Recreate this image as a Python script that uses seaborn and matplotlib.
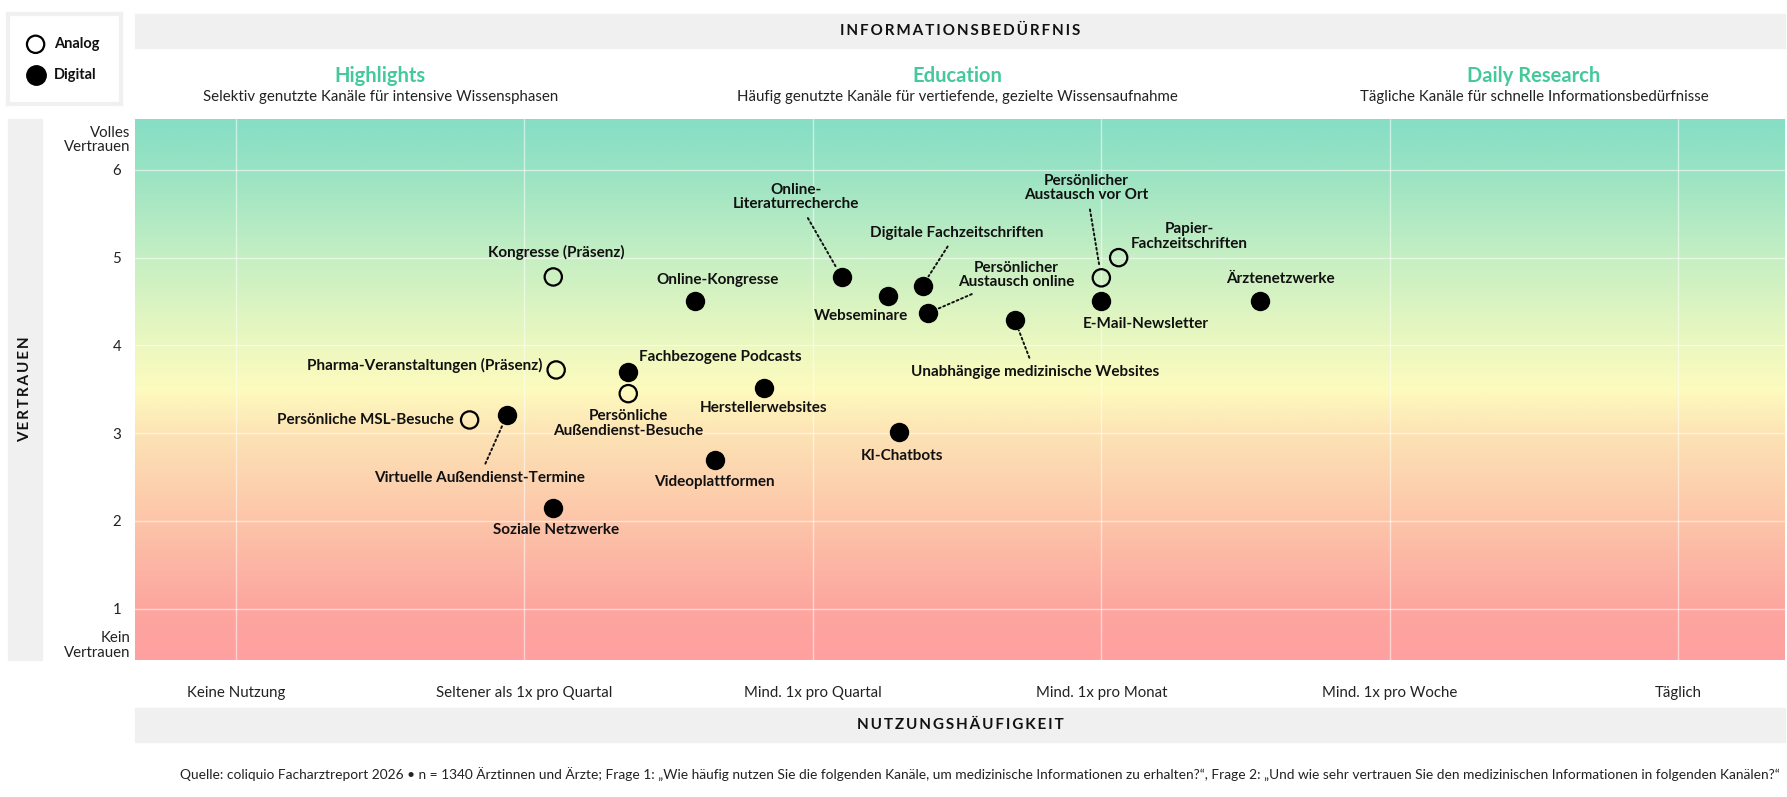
import matplotlib
matplotlib.use("Agg")
import matplotlib.pyplot as plt
import matplotlib.transforms as mtransforms
from matplotlib.colors import LinearSegmentedColormap
from matplotlib.patches import Rectangle
import numpy as np
import pandas as pd
import seaborn as sns

# --- Daten -------------------------------------------------------------
channels = [
    "Kongresse (Präsenz)", "Online-Kongresse", "Pharma-Veranstaltungen (Präsenz)",
    "Fachbezogene Podcasts", "Persönliche Außendienst-Besuche", "Persönliche MSL-Besuche",
    "Virtuelle Außendienst-Termine", "Soziale Netzwerke", "Videoplattformen",
    "Herstellerwebsites", "KI-Chatbots", "Online-Literaturrecherche", "Webseminare",
    "Digitale Fachzeitschriften", "Persönlicher Austausch online",
    "Unabhängige medizinische Websites", "Persönlicher Austausch vor Ort",
    "Papier-Fachzeitschriften", "E-Mail-Newsletter", "Ärztenetzwerke",
]
usage = [1.10, 1.59, 1.11, 1.36, 1.36, 0.81, 0.94, 1.10, 1.66, 1.83,
         2.30, 2.10, 2.26, 2.38, 2.40, 2.70, 3.00, 3.06, 3.00, 3.55]
trust = [4.78, 4.51, 3.72, 3.70, 3.45, 3.15, 3.21, 2.15, 2.69, 3.51,
         3.01, 4.78, 4.56, 4.68, 4.37, 4.29, 4.77, 5.00, 4.51, 4.51]
kind = ["Analog", "Digital", "Analog", "Digital", "Analog", "Analog",
        "Digital", "Digital", "Digital", "Digital", "Digital", "Digital", "Digital",
        "Digital", "Digital", "Digital", "Analog", "Analog", "Digital", "Digital"]

usage_labels = ["Keine Nutzung", "Seltener als 1x pro Quartal", "Mind. 1x pro Quartal",
                "Mind. 1x pro Monat", "Mind. 1x pro Woche", "Täglich"]
trust_ticks = [1, 2, 3, 4, 5, 6]
segments = ["Highlights", "Education", "Daily Research"]
segment_texts = ["Selektiv genutzte Kanäle für intensive Wissensphasen",
                 "Häufig genutzte Kanäle für vertiefende, gezielte Wissensaufnahme",
                 "Tägliche Kanäle für schnelle Informationsbedürfnisse"]
segment_pos = [0.5, 2.5, 4.5]
source = ("Quelle: coliquio Facharztreport 2026 • n = 1340 Ärztinnen und Ärzte; "
          "Frage 1: „Wie häufig nutzen Sie die folgenden Kanäle, um medizinische Informationen zu erhalten?“, "
          "Frage 2: „Und wie sehr vertrauen Sie den medizinischen Informationen in folgenden Kanälen?“")

df = pd.DataFrame({"channel": channels, "usage": usage, "trust": trust, "kind": kind})

# Beschriftung: (Text, dx, dy in Pixel, ha, Hilfslinie)
label_layout = {
    "Kongresse (Präsenz)": ("Kongresse (Präsenz)", 3, 24, "center", False),
    "Online-Kongresse": ("Online-Kongresse", 23, 21, "center", False),
    "Pharma-Veranstaltungen (Präsenz)": ("Pharma-Veranstaltungen (Präsenz)", -14, 4, "right", False),
    "Fachbezogene Podcasts": ("Fachbezogene Podcasts", 11, 15, "left", False),
    "Persönliche Außendienst-Besuche": ("Persönliche\nAußendienst-Besuche", 0, -30, "center", False),
    "Persönliche MSL-Besuche": ("Persönliche MSL-Besuche", -16, 0, "right", False),
    "Virtuelle Außendienst-Termine": ("Virtuelle Außendienst-Termine", -28, -63, "center", True),
    "Soziale Netzwerke": ("Soziale Netzwerke", 3, -22, "center", False),
    "Videoplattformen": ("Videoplattformen", 0, -22, "center", False),
    "Herstellerwebsites": ("Herstellerwebsites", 0, -20, "center", False),
    "KI-Chatbots": ("KI-Chatbots", 3, -24, "center", False),
    "Online-Literaturrecherche": ("Online-\nLiteraturrecherche", -46, 80, "center", True),
    "Webseminare": ("Webseminare", -27, -20, "center", False),
    "Digitale Fachzeitschriften": ("Digitale Fachzeitschriften", 34, 53, "center", True),
    "Persönlicher Austausch online": ("Persönlicher\nAustausch online", 88, 38, "center", True),
    "Unabhängige medizinische Websites": ("Unabhängige medizinische Websites", 20, -52, "center", True),
    "Persönlicher Austausch vor Ort": ("Persönlicher\nAustausch vor Ort", -15, 90, "center", True),
    "Papier-Fachzeitschriften": ("Papier-\nFachzeitschriften", 71, 21, "center", False),
    "E-Mail-Newsletter": ("E-Mail-Newsletter", 44, -23, "center", False),
    "Ärztenetzwerke": ("Ärztenetzwerke", 20, 22, "center", False),
}

# --- Layout ------------------------------------------------------------
sns.set_theme(style="white")
FONT = ["Lato", "DejaVu Sans"]
plt.rcParams["font.family"] = FONT
W, H = 1787, 797
fig = plt.figure(figsize=(W / 100, H / 100), dpi=100)
fig.patch.set_facecolor("white")


def box(x0, y0, x1, y1):
    return [x0 / W, 1 - y1 / H, (x1 - x0) / W, (y1 - y0) / H]


def spaced(s):
    return "\u2009".join(s)


GREY = "#f0f0f0"
TEAL = "#45c99b"
for b in [(135, 14, 1785, 48.3), (8.3, 119, 41.7, 659.5), (135, 707.7, 1785, 741.7)]:
    fig.patches.append(Rectangle((b[0] / W, 1 - b[3] / H), (b[2] - b[0]) / W, (b[3] - b[1]) / H,
                                 transform=fig.transFigure, color=GREY, zorder=0))
fig.text(960 / W, 1 - 31 / H, spaced("INFORMATIONSBEDÜRFNIS"), ha="center", va="center",
         fontsize=11, fontweight="bold", color="#111")
fig.text(960 / W, 1 - 725 / H, spaced("NUTZUNGSHÄUFIGKEIT"), ha="center", va="center",
         fontsize=11, fontweight="bold", color="#111")
fig.text(25.5 / W, 1 - 389 / H, spaced("VERTRAUEN"), ha="center", va="center", rotation=90,
         fontsize=11, fontweight="bold", color="#111")
fig.text(1780 / W, 1 - 775 / H, source, ha="right", va="center", fontsize=9.95, color="#222")

ax = fig.add_axes(box(135, 119, 1785, 659.5))
xlim = (-0.35, 5.37)
ylim = (0.42, 6.58)

# Farbverlauf (rot unten -> grün oben)
stops = [(0.42, "#ffa0a0"), (1.0, "#fda69f"), (2.0, "#fcc5a9"), (3.0, "#fde3b5"),
         (3.5, "#fdfbbe"), (4.0, "#ecf8c0"), (5.0, "#c6efc3"), (6.0, "#99e3c4"), (6.58, "#86dec4")]
cmap = LinearSegmentedColormap.from_list(
    "trust", [((v - ylim[0]) / (ylim[1] - ylim[0]), c) for v, c in stops])
ax.imshow(np.linspace(0, 1, 512).reshape(-1, 1), cmap=cmap, aspect="auto", origin="lower",
          extent=(*xlim, *ylim), zorder=0, interpolation="bilinear")

digital = df[df.kind == "Digital"]
analog = df[df.kind == "Analog"]
sns.scatterplot(data=digital, x="usage", y="trust", ax=ax, s=195, color="black",
                edgecolor="black", linewidth=0, zorder=4, legend=False)
sns.scatterplot(data=analog, x="usage", y="trust", ax=ax, s=155, facecolors="none",
                edgecolor="black", linewidth=1.6, zorder=4, legend=False)

for _, r in df.iterrows():
    text, dx, dy, ha, leader = label_layout[r.channel]
    arrow = None
    if leader:
        arrow = dict(arrowstyle="-", linestyle=(0, (1, 1.5)), lw=1.4, color="#111",
                     shrinkA=3, shrinkB=8)
    ax.annotate(text, xy=(r.usage, r.trust), xytext=(dx, dy), textcoords="offset pixels",
                ha=ha, va="center", fontsize=11, fontweight="bold", color="#111",
                linespacing=1.05, arrowprops=arrow, zorder=5)

ax.set_xlim(*xlim)
ax.set_ylim(*ylim)
ax.set_xticks(range(len(usage_labels)))
ax.set_xticklabels(usage_labels)
ax.set_yticks(trust_ticks)
ax.set_yticks([0.6, 6.36], ["Kein\nVertrauen", "Volles\nVertrauen"], minor=True)
ax.tick_params(axis="both", which="both", length=0, labelsize=10.8, labelcolor="#222")
ax.tick_params(axis="x", pad=19)
ax.tick_params(axis="y", pad=10)
for t in ax.get_yticklabels(minor=True):
    t.set_linespacing(1.05)
ax.grid(True, which="major", color="white", alpha=0.55, lw=1)
ax.set_axisbelow(True)
ax.set_xlabel("")
ax.set_ylabel("")
for s in ax.spines.values():
    s.set_visible(False)

# Segment-Überschriften
tr = mtransforms.blended_transform_factory(ax.transData, fig.transFigure)
for name, sub, px in zip(segments, segment_texts, segment_pos):
    ax.text(px, 1 - 76 / H, name, transform=tr, ha="center", va="center",
            fontsize=14.5, fontweight="bold", color=TEAL)
    ax.text(px, 1 - 96.5 / H, sub, transform=tr, ha="center", va="center",
            fontsize=10.8, color="#222")

# Legende
lax = fig.add_axes(box(7.7, 14, 121, 104.3))
lax.set_xlim(7.7, 121)
lax.set_ylim(104.3, 14)
lax.set_xticks([])
lax.set_yticks([])
lax.set_facecolor("white")
for s in lax.spines.values():
    s.set_color(GREY)
    s.set_linewidth(3)
lax.scatter([35.6], [44.3], s=155, facecolors="none", edgecolors="black", linewidths=1.6)
lax.scatter([35.6], [75], s=195, color="black")
lax.text(53.6, 44.3, "Analog", va="center", fontsize=10.5, fontweight="bold", color="#111")
lax.text(53.6, 75, "Digital", va="center", fontsize=10.5, fontweight="bold", color="#111")

fig.savefig("out.png", dpi=100)
